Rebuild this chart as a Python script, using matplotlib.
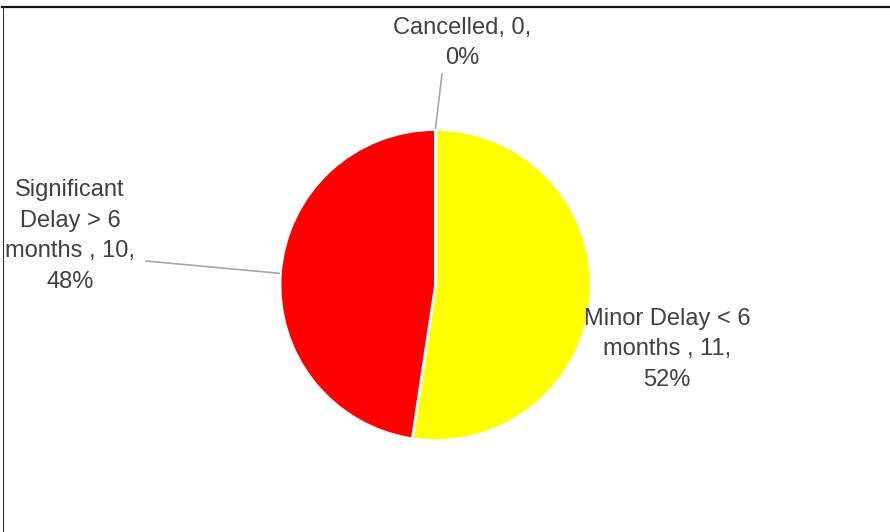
import matplotlib
matplotlib.use("Agg")
import matplotlib.pyplot as plt
from matplotlib.lines import Line2D
import numpy as np

# данные
categories = ["Minor Delay < 6\nmonths ", "Significant\nDelay > 6\nmonths ", "Cancelled"]
values = [11, 10, 0]
colors = ["#FFFF00", "#FF0000", "#FFFF00"]

TEXT_COLOR = "#404040"
LINE_COLOR = "#A6A6A6"

W, H = 890, 532
CX, CY, R = 435.5, 285.0, 155.5   # центр и радиус круга в пикселях


def px(x, y):
    """пиксели картинки -> координаты данных (радиус круга = 1)"""
    return (x - CX) / R, (CY - y) / R


plt.rcParams["font.family"] = ["Liberation Sans Narrow", "Liberation Sans", "DejaVu Sans"]

fig = plt.figure(figsize=(W / 100, H / 100), dpi=100)
fig.patch.set_facecolor("white")
ax = fig.add_axes([0, 0, 1, 1])

wedges, _ = ax.pie(
    values,
    colors=colors,
    startangle=90,
    counterclock=False,
    radius=1,
    wedgeprops=dict(edgecolor="white", linewidth=2),
)

ax.set_aspect("auto")
x0, y0 = px(0, H)
x1, y1 = px(W, 0)
ax.set_xlim(x0, x1)
ax.set_ylim(y0, y1)
ax.axis("off")

total = sum(values)
labels = [f"{c}, {v},\n{v / total * 100:.0f}%" for c, v in zip(categories, values)]

# позиции подписей (пиксели) и концы выносных линий
label_pos = [(667, 349), (70, 236), (462, 43)]
leader_end = [None, (146, 261), (442, 74)]

for w, lab, pos, end in zip(wedges, labels, label_pos, leader_end):
    ax.text(*px(*pos), lab, ha="center", va="center", multialignment="center",
            fontsize=17, color=TEXT_COLOR, linespacing=1.5)
    if end is not None:
        ang = np.deg2rad((w.theta1 + w.theta2) / 2)
        ex, ey = px(*end)
        ax.plot([np.cos(ang) * 1.01, ex], [np.sin(ang) * 1.01, ey],
                color=LINE_COLOR, linewidth=1.2, zorder=5)

# рамка: сверху и слева
fig.add_artist(Line2D([2 / W, 1], [1 - 6.5 / H, 1 - 6.5 / H],
                      transform=fig.transFigure, color="#111111", linewidth=1.6))
fig.add_artist(Line2D([2.5 / W, 2.5 / W], [0, 1 - 6.5 / H],
                      transform=fig.transFigure, color="#333333", linewidth=0.8))

fig.savefig("out.png", dpi=100, facecolor="white")
